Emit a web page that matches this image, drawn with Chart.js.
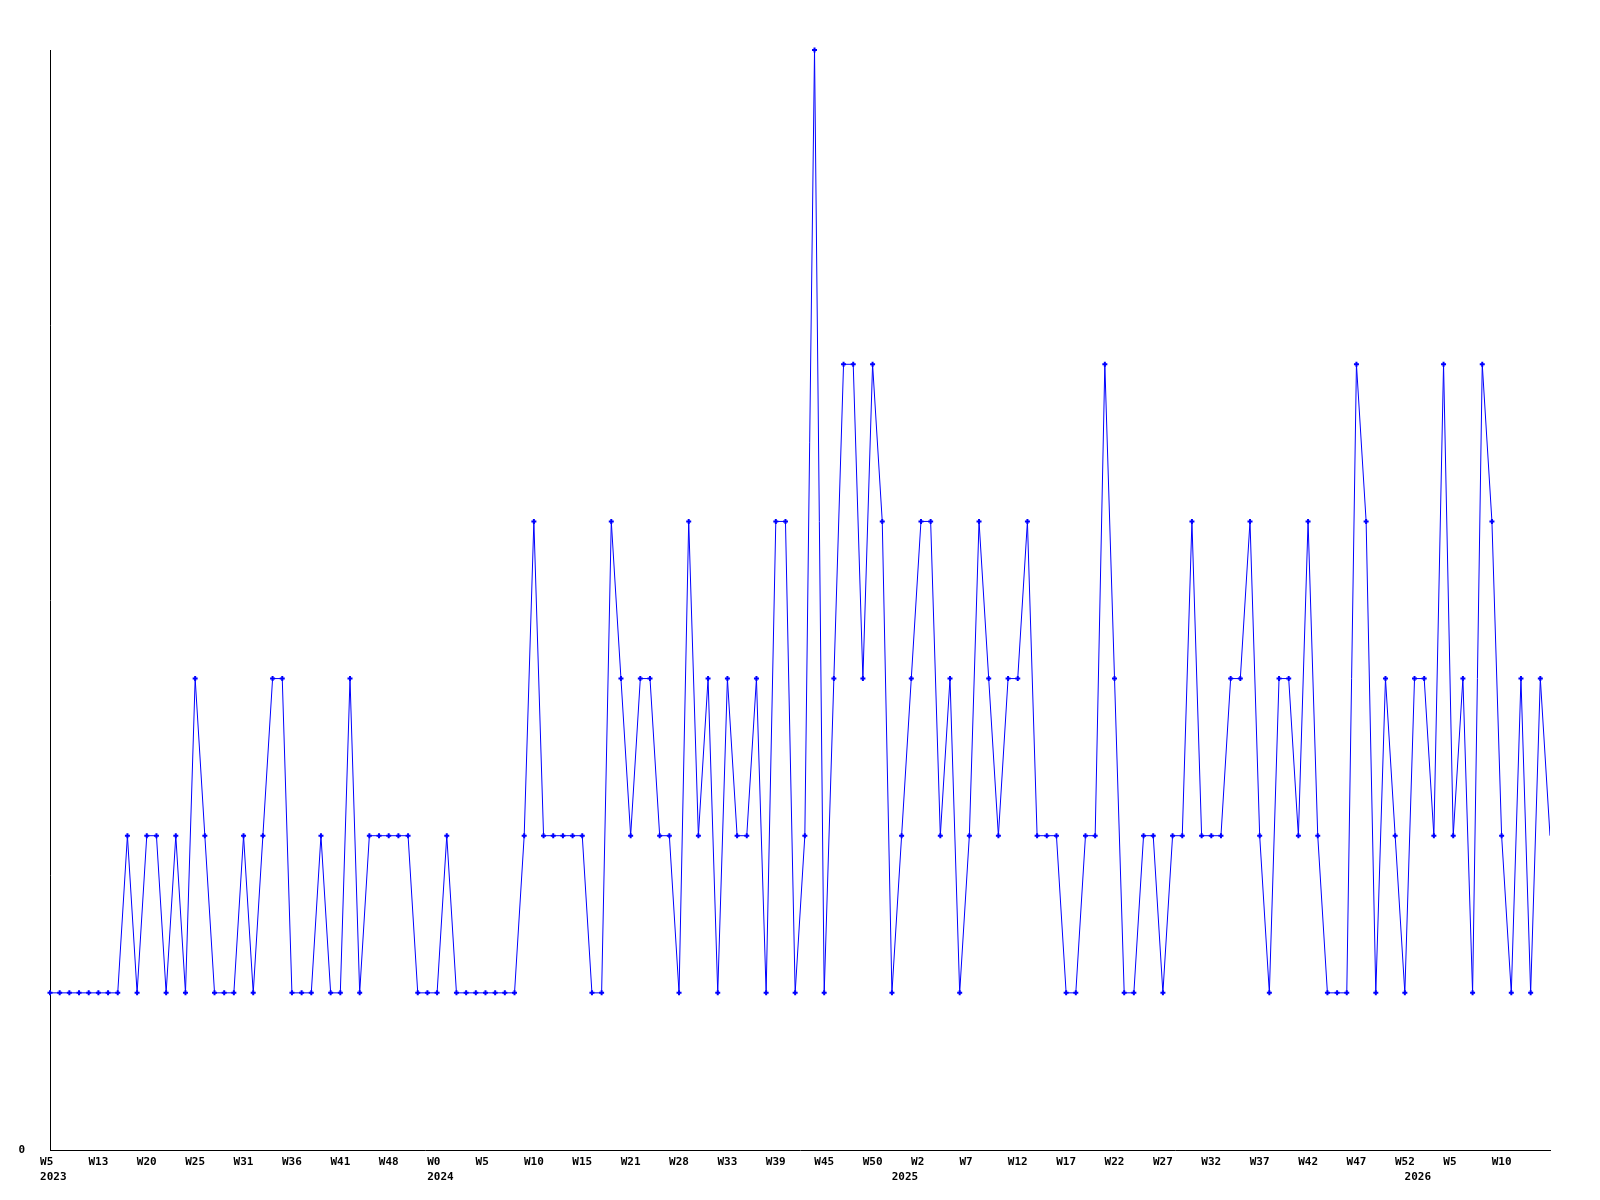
<!DOCTYPE html>
<html>
<head>
<meta charset="utf-8">
<title>Weekly chart</title>
<script src="https://cdn.jsdelivr.net/npm/chart.js@4"></script>
<style>
    body { margin: 0; background: #ffffff; }
    #weeklyChart { display: block; }
</style>
</head>
<body>
<canvas id="weeklyChart" width="1600" height="1200"></canvas>
<script>
// Weekly values, one per point, 2023 W5 .. 2026
const weeklyValues = [
    1, 1, 1, 1, 1, 1, 1, 1, 2, 1, 2, 2, 1, 2, 1, 3, 2, 1, 1, 1,
    2, 1, 2, 3, 3, 1, 1, 1, 2, 1, 1, 3, 1, 2, 2, 2, 2, 2,
    1, 1, 1, 2, 1, 1, 1, 1, 1, 1, 1, 2, 4, 2, 2, 2, 2, 2, 1, 1,
    4, 3, 2, 3, 3, 2, 2, 1, 4, 2, 3, 1, 3, 2, 2, 3, 1, 4, 4,
    1, 2, 7, 1, 3, 5, 5, 3, 5, 4, 1, 2, 3, 4, 4, 2, 3, 1, 2, 4,
    3, 2, 3, 3, 4, 2, 2, 2, 1, 1, 2, 2, 5, 3, 1, 1, 2, 2, 1,
    2, 2, 4, 2, 2, 2, 3, 3, 4, 2, 1, 3, 3, 2, 4, 2, 1, 1, 1, 5,
    4, 1, 3, 2, 1, 3, 3, 2, 5, 2, 3, 1, 5, 4, 2, 1, 3, 1, 3, 2
];

// Tick labels, shown on every 5th point
const tickLabels = ['W5', 'W13', 'W20', 'W25', 'W31', 'W36', 'W41', 'W48', 'W0', 'W5',
    'W10', 'W15', 'W21', 'W28', 'W33', 'W39', 'W45', 'W50', 'W2', 'W7',
    'W12', 'W17', 'W22', 'W27', 'W32', 'W37', 'W42', 'W47', 'W52', 'W5', 'W10'];

// Year shown under the first point of each year
const yearIndexes = [0, 40, 88, 141];
const yearLabels = ['2023', '2024', '2025', '2026'];

const yTicks = [0];

const categories = weeklyValues.map((v, i) => i);

const labelFont = { family: 'DejaVu Sans Mono', size: 11, weight: 'bold', lineHeight: 1.35 };

var ctx = document.getElementById('weeklyChart').getContext('2d');
var weeklyChart = new Chart(ctx, {
    type: 'line',
    data: {
        labels: categories,
        datasets: [{
            data: weeklyValues,
            borderColor: '#0000ff',
            borderWidth: 1,
            tension: 0,
            fill: false,
            pointStyle: 'cross',
            // last point sits on the edge, no marker there
            pointRadius: c => (c.dataIndex === weeklyValues.length - 1 ? 0 : 2.5),
            pointBorderWidth: 2,
            pointBorderColor: '#0000ff',
            pointBackgroundColor: '#0000ff',
            clip: { left: 5, top: 5, right: 0, bottom: 5 }
        }]
    },
    options: {
        responsive: false,
        animation: false,
        events: [],
        layout: {
            padding: { left: 0, top: 50, right: 50, bottom: 0 }
        },
        plugins: {
            legend: { display: false },
            tooltip: { enabled: false }
        },
        scales: {
            x: {
                type: 'category',
                offset: false,
                grid: { display: false, drawTicks: false },
                border: { display: true, color: '#000000', width: 1 },
                afterFit: function (scale) { scale.height = 50; },
                ticks: {
                    autoSkip: false,
                    maxRotation: 0,
                    minRotation: 0,
                    padding: 5,
                    color: '#000000',
                    font: labelFont,
                    callback: function (value, index) {
                        let text = '';
                        if (index % 5 === 0 && index / 5 < tickLabels.length) {
                            text = tickLabels[index / 5].padEnd(3, ' ');
                        }
                        const y = yearIndexes.indexOf(index);
                        if (y >= 0) {
                            return [text, ' ' + yearLabels[y]];
                        }
                        return text;
                    }
                }
            },
            y: {
                min: 0,
                max: 7,
                grid: { display: false, drawTicks: false },
                border: { display: true, color: '#000000', width: 1 },
                afterFit: function (scale) { scale.width = 50; },
                afterBuildTicks: function (scale) {
                    scale.ticks = yTicks.map(v => ({ value: v }));
                },
                ticks: {
                    padding: 25,
                    color: '#000000',
                    font: labelFont,
                    callback: function (value) { return String(value); }
                }
            }
        }
    }
});
</script>
</body>
</html>
